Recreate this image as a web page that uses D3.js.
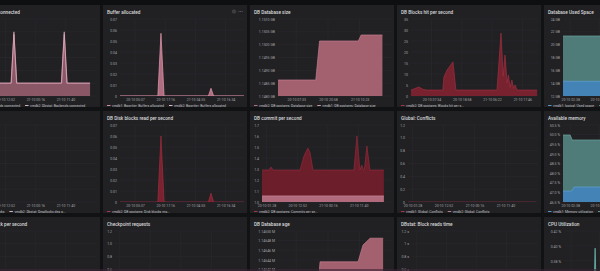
<!DOCTYPE html>
<html>
<head>
<meta charset="utf-8">
<script src="https://cdnjs.cloudflare.com/ajax/libs/d3/7.8.5/d3.min.js"></script>
<style>
  body { margin: 0; background: #111214; overflow: hidden; }
  svg { display: block; font-family: Roboto, "DejaVu Sans", sans-serif; }
</style>
</head>
<body>
<script>
//time range of the whole dashboard, series points are [hours since rangeStart, value]
var rangeStart = "19-10 23:50";
var rangeEnd = "21-10 23:40";

//x tick labels (grafana picks different ones depending on the y axis width)
var ticksNarrow = ["20-10 01:28", "20-10 12:52", "21-10 00:16", "21-10 11:40"];
var ticksBuffer = ["20-10 05:37", "20-10 17:16", "21-10 04:55", "21-10 16:34"];
var ticksSize = ["20-10 07:33", "20-10 20:58", "21-10 10:23"];
var ticksBlocksHit = ["20-10 07:34", "20-10 18:58", "21-10 06:22", "21-10 17:46"];
var ticksLogical = ["20-10 02:38", "20-10 14:02", "21-10 01:26"];

//y tick values
var yBackends = [0, 1, 2, 3, 4, 5, 6];
var yBuffer = [0, 0.01, 0.02, 0.03, 0.04, 0.05, 0.06, 0.07];
var ySizeGB = [1.148, 1.1485, 1.149, 1.1495, 1.15, 1.1505, 1.151];
var yBlocksHit = [0, 5, 10, 15, 20, 25, 30, 35];
var yUsedGB = [12, 14, 16, 18, 20, 22, 24];
var yDeadlocks = [0, 0.2, 0.4, 0.6, 0.8, 1.0, 1.2];
var yCommits = [1.0, 1.1, 1.2, 1.3, 1.4, 1.5, 1.6, 1.7];
var yConflicts = [0, 0.2, 0.4, 0.6, 0.8, 1.0, 1.2];
var yMemory = [46.5, 47, 47.5, 48, 48.5, 49, 49.5, 50, 50.5];
var yCheckpoint = [0, 0.2, 0.4, 0.6, 0.8, 1.0, 1.2];
var yAgeM = [1.14634, 1.14636, 1.14638, 1.1464, 1.14642, 1.14644, 1.14646, 1.14648, 1.1465];
var yReadTime = [0, 0.2, 0.4, 0.6, 0.8, 1.0, 1.2];
var yCpu = [0.32, 0.34, 0.36, 0.38, 0.40, 0.42];

//series
var backendsVmdb1 = [[0, 1], [15.2, 1], [16.3, 5], [17.4, 1], [34.3, 1], [35.4, 5], [36.5, 1], [45.2, 1]];
var backendsVmdb2 = [[0, 1], [15.3, 1], [16.3, 4.8], [17.3, 1], [34.4, 1], [35.4, 4.8], [36.4, 1], [45.2, 1]];
var buffersVmdb1 = [[0, 0], [14.6, 0], [15.8, 0.057], [17.0, 0], [34.1, 0], [35.1, 0.007], [36.1, 0], [47.8, 0]];
var buffersVmdb2 = [[0, 0], [47.8, 0]];
var sizeVmdb2 = [[0, 1.148623], [16.0, 1.148623], [17.6, 1.150143], [34.0, 1.150143], [35.2, 1.150377], [44.2, 1.150377]];
var blocksHitVmdb2 = [[0, 2.7], [1.5, 3.4], [3, 4.1], [4.5, 3.0], [6, 2.7], [12.0, 2.7], [12.4, 8.6], [13.6, 11.8], [15.8, 15.5],
    [16.9, 2.7], [32.4, 2.7], [33.9, 28.6], [34.7, 9], [35.4, 18.6], [36.2, 6], [36.7, 9.5], [37.3, 4], [38, 7.3],
    [38.6, 3.5], [39.2, 5], [39.9, 2.7], [47.5, 2.7]];
var usedSpaceFree = [[0, 21.35], [47.8, 21.35]];
var usedSpaceUsed = [[0, 14.3], [47.8, 14.3]];
var diskReadVmdb2 = [[0, 0], [14.6, 0], [15.8, 0.06], [17.0, 0], [34.1, 0], [35.1, 0.008], [36.1, 0], [47.8, 0]];
var commitsVmdb2 = [[0, 1.29], [2.5, 1.29], [3.3, 1.318], [4.1, 1.29], [14.1, 1.29], [15.6, 1.42], [17.0, 1.49], [17.8, 1.45],
    [18.9, 1.29], [34.1, 1.29], [35.2, 1.6], [36.3, 1.29], [37.0, 1.336], [37.6, 1.29], [38.0, 1.3], [38.9, 1.51],
    [40.0, 1.29], [45.2, 1.29]];
var commitsVmdb1 = [[0, 1.055], [45.2, 1.055]];
var conflictsVmdb1 = [[0, 0], [47, 0]];
var memoryAvailable = [[0, 49.98], [2.8, 49.98], [3.6, 49.72], [47.8, 49.72]];
var memoryUsed = [[0, 47.07], [3.4, 47.07], [4.4, 47.28], [47.8, 47.28]];
var checkpointVmdb1 = [[0, 0], [47, 0]];
var ageVmdb2 = [[0, 1.14638], [16.9, 1.14638], [17.8, 1.146436], [33.9, 1.146436], [36, 1.146471], [39, 1.146485], [44.5, 1.146485]];
var readTimeVmdb1 = [[0, 0], [47, 0]];
var cpuVmdb1 = [[0, 0.33], [11.8, 0.33], [12.3, 0.397], [12.8, 0.33], [47.8, 0.33]];

//legend names
var legendBackends = ["vmdb1: Dbstat: Backends connected", "vmdb2: Dbstat: Backends connected"];
var legendBuffers = ["vmdb1: Bgwriter: Buffers allocated", "vmdb2: Bgwriter: Buffers allocated"];
var legendSize = ["vmdb2: DB postgres: Database size", "vmdb1: DB postgres: Database size"];
var legendBlocksHit = ["vmdb2: DB postgres: Blocks hit per s..."];
var legendUsed = ["vmdb1: logical: Used space", "vmdb1: logical: Free space"];
var legendDeadlocks = ["vmdb1: Dbstat: Deadlocks", "vmdb2: Dbstat: Deadlocks dea q..."];
var legendDiskRead = ["vmdb2: DB postgres: Disk blocks rea..."];
var legendCommits = ["vmdb2: DB postgres: Commits per se..."];
var legendConflicts = ["vmdb1: Global: Conflicts", "vmdb2: Global: Conflicts"];
var legendMemory = ["vmdb1: Memory utilization", "vmdb1: Memory available"];

var svg = d3.select("body")
        .append("svg")
        .attr("width", 600)
        .attr("height", 271);
var defs = svg.append("defs");

var parseTime = d3.timeParse("%d-%m %H:%M");
var formatTime = d3.timeFormat("%d-%m %H:%M");
var t0 = parseTime(rangeStart), t1 = parseTime(rangeEnd);
function hoursToDate(h) { return new Date(t0.getTime() + h * 3600 * 1000); }

//grid of panels
var colX = [-44, 103, 250, 397, 544];
var rowY = [5, 111, 217];
var panelW = 144, panelH = 102;

var zeroOr = (f) => (v) => v === 0 ? "0" : d3.format(f)(v);
var pink = { fill: "#b86f84", line: "#e3aabb", opacity: 0.45 };

var panels = [
    { title: "Dbstat: Backends connected", col: 0, row: 0, yw: 15, yTicks: yBackends, yFmt: d3.format("d"), xTicks: ticksNarrow,
      series: [{ data: backendsVmdb1, ...pink }, { data: backendsVmdb2, ...pink }],
      legend: legendBackends, legendColors: ["#c98a9c", "#e8c6d0"] },
    { title: "Buffer allocated", col: 1, row: 0, yw: 17, yTicks: yBuffer, yFmt: zeroOr(".2f"), xTicks: ticksBuffer,
      series: [{ data: buffersVmdb2, fill: "#b86f84", line: "#c07a8e", opacity: 0.5 },
               { data: buffersVmdb1, fill: "#c77b90", line: "#e79ab0", opacity: 0.85 }],
      legend: legendBuffers, legendColors: ["#e79ab0", "#f2c9d5"], menu: true },
    { title: "DB Database size", col: 2, row: 0, yw: 28, yTicks: ySizeGB, yFmt: (v) => d3.format(".4f")(v) + " GB", xTicks: ticksSize,
      series: [{ data: sizeVmdb2, fill: "#a3606f", line: "#c47c8c", opacity: 1 }],
      legend: legendSize, legendColors: ["#c47c8c", "#e3aabb"] },
    { title: "DB Blocks hit per second", col: 3, row: 0, yw: 14, yTicks: yBlocksHit, yFmt: d3.format("d"), xTicks: ticksBlocksHit,
      series: [{ data: blocksHitVmdb2, fill: "#78222f", line: "#9c2f40", opacity: 1 }],
      legend: legendBlocksHit, legendColors: ["#b33a4c"] },
    { title: "Database Used Space", col: 4, row: 0, yw: 19, yTicks: yUsedGB, yFmt: (v) => v + " GB", xTicks: ticksLogical,
      series: [{ data: usedSpaceFree, fill: "#4f7c79", line: "#6fa5a0", opacity: 1 },
               { data: usedSpaceUsed, fill: "#4483b5", line: "#5fa2d6", opacity: 1 }],
      legend: legendUsed, legendColors: ["#5fa2d6", "#6fa5a0"] },

    { title: "Dbstat: Deadlocks", col: 0, row: 1, yw: 15, yTicks: yDeadlocks, yFmt: zeroOr(".1f"), xTicks: ticksNarrow,
      series: [], legend: legendDeadlocks, legendColors: ["#c98a9c", "#e8c6d0"] },
    { title: "DB Disk blocks read per second", col: 1, row: 1, yw: 17, yTicks: yBuffer, yFmt: zeroOr(".2f"), xTicks: ticksBuffer,
      series: [{ data: diskReadVmdb2, fill: "#7b2230", line: "#a02c3e", opacity: 1 }],
      legend: legendDiskRead, legendColors: ["#b33a4c"] },
    { title: "DB commit per second", col: 2, row: 1, yw: 12, yTicks: yCommits, yFmt: d3.format(".1f"), xTicks: ticksNarrow,
      series: [{ data: commitsVmdb2, fill: "#6d1e2b", line: "#8f2a3a", opacity: 1 },
               { data: commitsVmdb1, fill: "#b06a7c", line: "#c98a9c", opacity: 1 }],
      legend: legendCommits, legendColors: ["#b33a4c"] },
    { title: "Global: Conflicts", col: 3, row: 1, yw: 11, yTicks: yConflicts, yFmt: zeroOr(".1f"), xTicks: ticksNarrow,
      series: [{ data: conflictsVmdb1, fill: null, line: "#8a2b3b", opacity: 1 }],
      legend: legendConflicts, legendColors: ["#b33a4c", "#c98a9c"] },
    { title: "Available memory", col: 4, row: 1, yw: 19, yTicks: yMemory, yFmt: (v) => d3.format(".1f")(v) + " %", xTicks: ticksLogical,
      series: [{ data: memoryAvailable, fill: "#4f7c79", line: "#6fa5a0", opacity: 1 },
               { data: memoryUsed, fill: "#4483b5", line: "#5fa2d6", opacity: 1 }],
      legend: legendMemory, legendColors: ["#5fa2d6", "#6fa5a0"] },

    { title: "DB Dbstat: Deadlock per second", col: 0, row: 2, yw: 15, yTicks: yDeadlocks, yFmt: zeroOr(".1f"), xTicks: ticksNarrow,
      series: [], legend: [], legendColors: [] },
    { title: "Checkpoint requests", col: 1, row: 2, yw: 12, yTicks: yCheckpoint, yFmt: zeroOr(".1f"), xTicks: ticksNarrow,
      series: [{ data: checkpointVmdb1, fill: null, line: "#8a2b3b", opacity: 1 }], legend: [], legendColors: [] },
    { title: "DB Database age", col: 2, row: 2, yw: 28, yTicks: yAgeM, yFmt: (v) => d3.format(".5f")(v) + " M", xTicks: ticksSize,
      series: [{ data: ageVmdb2, fill: "#a3606f", line: "#c47c8c", opacity: 1 }], legend: [], legendColors: [] },
    { title: "DBstat: Block reads time", col: 3, row: 2, yw: 15, yTicks: yReadTime, yFmt: (v) => d3.format("~g")(v) + " s", xTicks: ticksNarrow,
      series: [{ data: readTimeVmdb1, fill: null, line: "#8a2b3b", opacity: 1 }], legend: [], legendColors: [] },
    { title: "CPU Utilization", col: 4, row: 2, yw: 20, yTicks: yCpu, yDomain: [0.317, 0.42], yFmt: (v) => d3.format(".2f")(v) + " %", xTicks: ticksLogical,
      series: [{ data: cpuVmdb1, fill: "#4f8f89", line: "#6fc0b8", opacity: 1 }], legend: [], legendColors: [] }
];

//dark strip on top
svg.append("rect").attr("x", 0).attr("y", 0).attr("width", 600).attr("height", 5).attr("fill", "#0e0f11");

panels.forEach((p, i) => {
    var px = colX[p.col], py = rowY[p.row];
    var left = px + p.yw, right = px + panelW - 3;
    var top = py + 14, bottom = py + 91;

    var clipId = "clip-panel-" + i;
    defs.append("clipPath").attr("id", clipId)
        .append("rect").attr("x", px).attr("y", py).attr("width", panelW).attr("height", panelH);
    var plotClip = "clip-plot-" + i;
    defs.append("clipPath").attr("id", plotClip)
        .append("rect").attr("x", left).attr("y", top - 2).attr("width", right - left).attr("height", bottom - top + 2);

    var g = svg.append("g").attr("clip-path", "url(#" + clipId + ")");

    //panel background
    g.append("rect")
        .attr("x", px).attr("y", py)
        .attr("width", panelW).attr("height", panelH)
        .attr("fill", "#212124");

    var x = d3.scaleTime().domain([t0, t1]).range([left, right]);
    var y = d3.scaleLinear()
        .domain(p.yDomain || d3.extent(p.yTicks))
        .range([bottom, top]);
    var xTickDates = p.xTicks.map(parseTime);

    //grid
    g.append("g").selectAll("line.hgrid")
        .data(p.yTicks)
        .enter().append("line")
        .attr("x1", left).attr("x2", right)
        .attr("y1", (d) => y(d)).attr("y2", (d) => y(d))
        .attr("stroke", "#2c2c30").attr("stroke-width", 0.5);
    g.append("g").selectAll("line.vgrid")
        .data(xTickDates)
        .enter().append("line")
        .attr("x1", (d) => x(d)).attr("x2", (d) => x(d))
        .attr("y1", top).attr("y2", bottom)
        .attr("stroke", "#2c2c30").attr("stroke-width", 0.5);

    //series
    var plot = g.append("g").attr("clip-path", "url(#" + plotClip + ")");
    var area = d3.area()
        .x((d) => x(hoursToDate(d[0])))
        .y0(bottom)
        .y1((d) => y(d[1]));
    var line = d3.line()
        .x((d) => x(hoursToDate(d[0])))
        .y((d) => y(d[1]));
    p.series.forEach((s) => {
        if (s.fill) {
            plot.append("path")
                .attr("d", area(s.data))
                .attr("fill", s.fill)
                .attr("fill-opacity", s.opacity);
        }
        plot.append("path")
            .attr("d", line(s.data))
            .attr("fill", "none")
            .attr("stroke", s.line)
            .attr("stroke-width", 0.7);
    });

    //axes
    var yAxis = g.append("g")
        .attr("transform", "translate(" + left + ",0)")
        .call(d3.axisLeft(y).tickValues(p.yTicks).tickFormat(p.yFmt).tickSize(0).tickPadding(3));
    var xAxis = g.append("g")
        .attr("transform", "translate(0," + bottom + ")")
        .call(d3.axisBottom(x).tickValues(xTickDates).tickFormat(formatTime).tickSize(0).tickPadding(2.4));
    [yAxis, xAxis].forEach((a) => {
        a.select(".domain").remove();
        a.selectAll("text")
            .attr("fill", "#a3a3a6")
            .style("font-size", "3.5px")
            .style("font-family", "Roboto, sans-serif");
    });

    //title
    g.append("text")
        .attr("x", px + 4).attr("y", py + 8.6)
        .attr("fill", "#d8d9da")
        .style("font-size", "4.7px")
        .style("font-weight", 500)
        .text(p.title);

    //hover menu icons
    if (p.menu) {
        g.append("circle").attr("cx", px + panelW - 13).attr("cy", py + 6.5).attr("r", 1.8)
            .attr("fill", "#3b3b3f").attr("stroke", "#55555a").attr("stroke-width", 0.4);
        [0, 1.6, 3.2].forEach((dx) => {
            g.append("circle").attr("cx", px + panelW - 8 + dx).attr("cy", py + 6.5).attr("r", 0.5).attr("fill", "#6c6c70");
        });
    }

    //legend
    var lx = px + 4, ly = py + 100.5;
    p.legend.forEach((name, k) => {
        g.append("line")
            .attr("x1", lx).attr("x2", lx + 3.5)
            .attr("y1", ly).attr("y2", ly)
            .attr("stroke", p.legendColors[k]).attr("stroke-width", 0.9);
        var t = g.append("text")
            .attr("x", lx + 5).attr("y", ly + 1.2)
            .attr("fill", "#c4c4c8")
            .style("font-size", "3.4px")
            .text(name);
        lx += 5 + t.node().getComputedTextLength() + 5;
    });

    //drop texts that end up completely outside the window or the panel
    var vis = { x0: Math.max(px, 0), y0: Math.max(py, 0), x1: Math.min(px + panelW, 600), y1: Math.min(py + panelH, 271) };
    g.selectAll("text").each(function() {
        var r = this.getBoundingClientRect();
        if (r.right <= vis.x0 || r.left >= vis.x1 || r.bottom <= vis.y0 || r.top >= vis.y1) {
            d3.select(this).remove();
        }
    });
});

//purple strip at the very bottom
svg.append("rect").attr("x", 0).attr("y", 269).attr("width", 600).attr("height", 2)
    .attr("fill", "#3a2236").attr("fill-opacity", 0.6);
</script>
</body>
</html>
